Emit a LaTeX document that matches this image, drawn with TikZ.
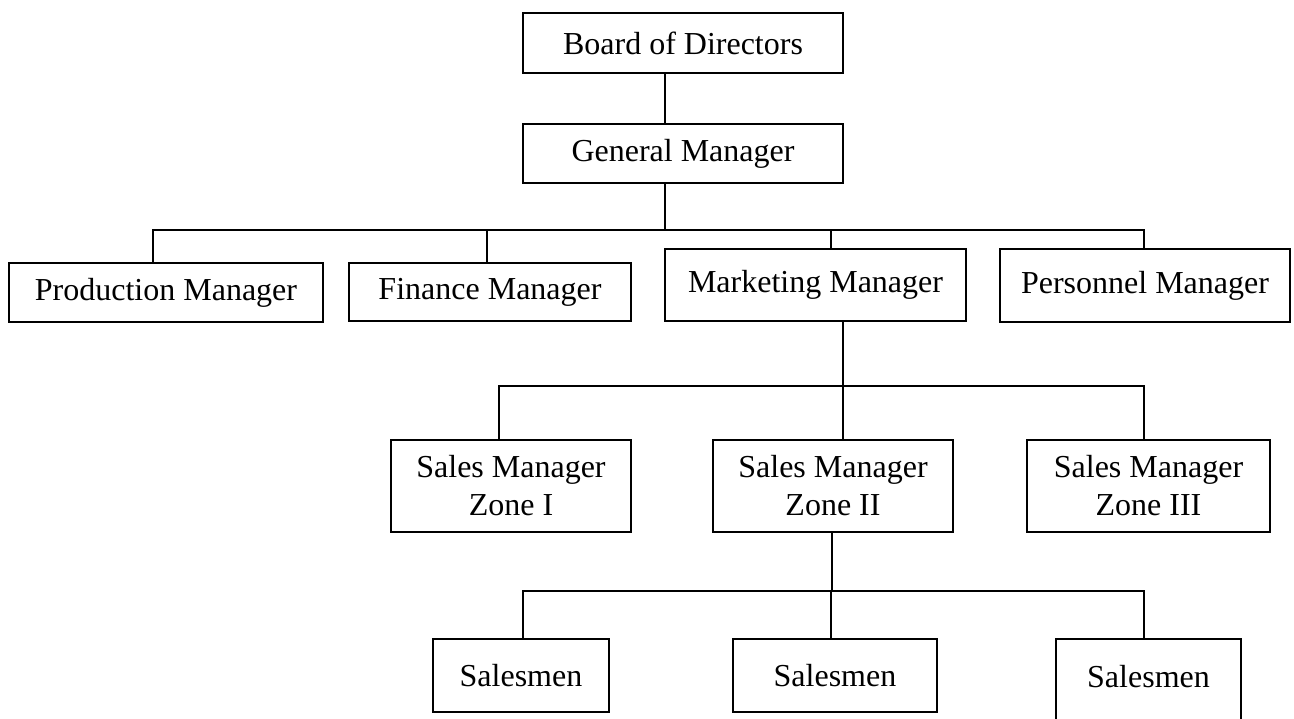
\documentclass[tikz,border=0pt]{standalone}
\usepackage{fontspec}
\setmainfont{Liberation Serif}
\usetikzlibrary{positioning}
\tikzset{box/.style = {draw, line width=1pt, inner sep=0pt, align=center,
                       font=\fontsize{16pt}{19pt}\selectfont},
         link/.style = {line width=1pt}}

\begin{document}
\begin{tikzpicture}[x=0.5pt, y=-0.5pt]
    \useasboundingbox (0, 0) rectangle (1294, 718);

    \node [box, minimum width=160pt, minimum height=30pt] (board) at (683, 43) {Board of Directors};
    \node [box, minimum width=160pt, minimum height=29.5pt] (general) at (683, 153.5) {General Manager};

    \node [box, minimum width=157pt, minimum height=29.5pt] (prod) at (166, 292.5) {Production Manager};
    \node [box, minimum width=141pt, minimum height=29pt] (fin) at (490, 292) {Finance Manager};
    \node [box, minimum width=150.5pt, minimum height=36pt] (mark) at (815.5, 285) {Marketing Manager};
    \node [box, minimum width=145pt, minimum height=36.5pt] (pers) at (1145, 285.5) {Personnel Manager};

    \node [box, minimum width=120pt, minimum height=46pt] (sm1) at (511, 486) {Sales Manager\\Zone I};
    \node [box, minimum width=120pt, minimum height=46pt] (sm2) at (833, 486) {Sales Manager\\Zone II};
    \node [box, minimum width=121.5pt, minimum height=46pt] (sm3) at (1148.5, 486) {Sales Manager\\Zone III};

    \node [box, minimum width=88pt, minimum height=36.5pt] (s1) at (521, 675.5) {Salesmen};
    \node [box, minimum width=102pt, minimum height=36.5pt] (s2) at (835, 675.5) {Salesmen};
    \node [box, minimum width=92.5pt, minimum height=50.5pt, text height=10.8pt, text depth=13pt] (s3) at (1148.5, 689.5) {Salesmen};

    \coordinate (j0) at (665, 230);
    \coordinate (b1) at (153, 230);
    \coordinate (b2) at (487, 230);
    \coordinate (b3) at (831, 230);
    \coordinate (b4) at (1144, 230);
    \draw [link] (board.south -| j0) -- (general.north -| j0);
    \draw [link] (general.south -| j0) -- (j0);
    \draw [link] (b1 |- prod.north) -- (b1) -- (b4) -- (b4 |- pers.north);
    \draw [link] (b2) -- (b2 |- fin.north);
    \draw [link] (b3) -- (b3 |- mark.north);

    \coordinate (j1) at (843, 386);
    \coordinate (c1) at (499, 386);
    \coordinate (c3) at (1144, 386);
    \draw [link] (mark.south -| j1) -- (j1);
    \draw [link] (c1 |- sm1.north) -- (c1) -- (c3) -- (c3 |- sm3.north);
    \draw [link] (j1) -- (j1 |- sm2.north);

    \coordinate (j2) at (832, 591);
    \coordinate (d1) at (523, 591);
    \coordinate (d2) at (831, 591);
    \coordinate (d3) at (1144, 591);
    \draw [link] (sm2.south -| j2) -- (j2);
    \draw [link] (d1 |- s1.north) -- (d1) -- (d3) -- (d3 |- s3.north);
    \draw [link] (d2) -- (d2 |- s2.north);
\end{tikzpicture}
\end{document}
